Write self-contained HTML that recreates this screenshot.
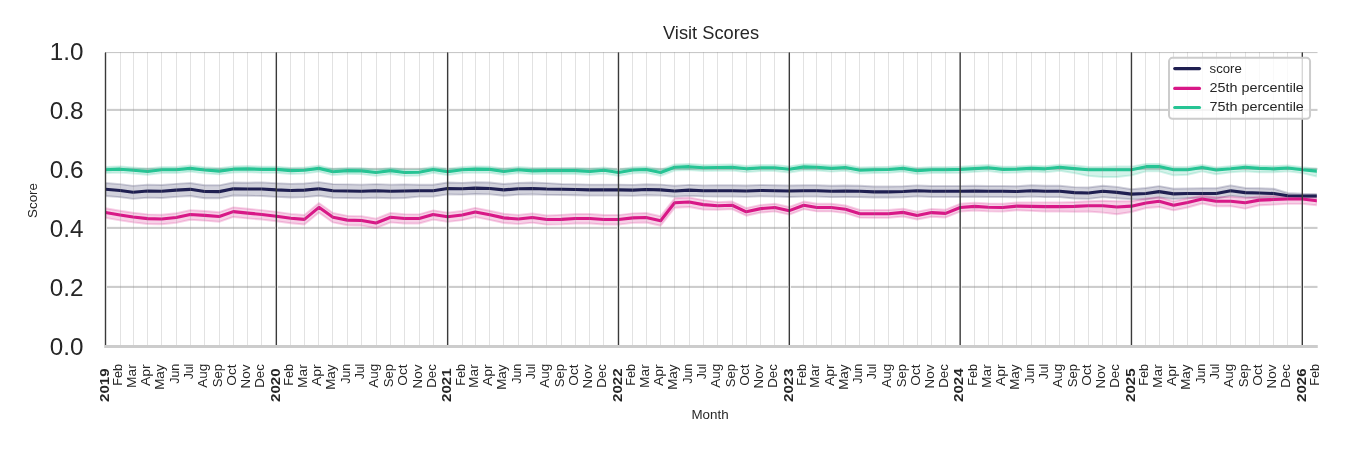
<!DOCTYPE html>
<html><head><meta charset="utf-8"><style>html,body{margin:0;padding:0;background:#fff;}svg{display:block;will-change:transform;}</style></head>
<body><svg width="1350" height="450" viewBox="0 0 1350 450">
<defs><clipPath id="ax"><rect x="105.5" y="51.9" width="1211.3" height="294"/></clipPath></defs>
<rect x="0" y="0" width="1350" height="450" fill="#fff"/>
<rect x="105.5" y="285.86" width="1212" height="2.08" fill="#cccccc"/>
<rect x="105.5" y="226.86" width="1212" height="2.08" fill="#cccccc"/>
<rect x="105.5" y="167.86" width="1212" height="2.08" fill="#cccccc"/>
<rect x="105.5" y="108.86" width="1212" height="2.08" fill="#cccccc"/>
<rect x="105.5" y="52" width="1212" height="1.1" fill="#c8c8c8"/>
<rect x="104.15" y="53.3" width="2.8" height="291.2" fill="#ffffff"/>
<rect x="274.99" y="53.3" width="2.8" height="291.2" fill="#ffffff"/>
<rect x="446.29" y="53.3" width="2.8" height="291.2" fill="#ffffff"/>
<rect x="617.13" y="53.3" width="2.8" height="291.2" fill="#ffffff"/>
<rect x="787.97" y="53.3" width="2.8" height="291.2" fill="#ffffff"/>
<rect x="958.81" y="53.3" width="2.8" height="291.2" fill="#ffffff"/>
<rect x="1130.11" y="53.3" width="2.8" height="291.2" fill="#ffffff"/>
<rect x="1300.95" y="53.3" width="2.8" height="291.2" fill="#ffffff"/>
<polygon clip-path="url(#ax)" points="105.50,182.93 120.01,184.17 133.11,185.87 147.62,184.63 161.67,184.97 176.18,183.83 190.22,183.04 204.73,185.19 219.24,185.31 233.28,182.47 247.79,182.70 261.83,182.40 276.34,183.31 290.85,183.87 304.42,183.53 318.93,182.17 332.97,184.10 347.48,184.33 361.52,184.67 376.03,184.10 390.54,184.67 404.58,184.33 419.09,184.80 433.13,184.80 447.64,182.53 462.15,182.87 475.26,182.19 489.77,182.53 503.81,184.01 518.32,182.87 532.36,182.53 546.87,183.10 561.38,183.93 575.42,184.27 589.93,184.61 603.97,184.61 618.48,184.61 632.99,184.83 646.10,184.27 660.61,184.61 674.65,185.74 689.16,184.83 703.20,185.40 717.71,185.20 732.22,185.20 746.26,185.43 760.77,184.97 774.81,185.20 789.32,185.54 803.83,185.20 816.93,185.20 831.44,185.77 845.48,185.54 859.99,185.77 874.04,186.53 888.55,186.53 903.05,186.19 917.10,185.40 931.61,185.97 945.65,185.97 960.16,185.97 974.67,185.74 988.24,185.97 1002.75,185.97 1016.79,186.19 1031.30,185.20 1045.34,185.77 1059.85,185.77 1074.36,187.13 1088.40,187.47 1102.91,185.77 1116.95,186.90 1131.46,189.30 1145.97,188.03 1159.08,186.11 1173.59,188.77 1187.63,188.43 1202.14,188.23 1216.18,188.23 1230.69,185.40 1245.20,187.93 1259.24,188.27 1273.75,188.73 1287.79,193.00 1302.30,193.63 1316.81,193.93 1316.81,197.83 1302.30,198.13 1287.79,198.10 1273.75,198.33 1259.24,198.37 1245.20,197.43 1230.69,195.80 1216.18,198.63 1202.14,198.13 1187.63,198.13 1173.59,198.97 1159.08,197.51 1145.97,199.43 1131.46,199.30 1116.95,198.30 1102.91,197.17 1088.40,198.87 1074.36,198.53 1059.85,197.17 1045.34,197.17 1031.30,196.60 1016.79,197.19 1002.75,196.97 988.24,196.97 974.67,196.74 960.16,196.97 945.65,196.97 931.61,196.97 917.10,196.40 903.05,197.19 888.55,197.53 874.04,197.53 859.99,197.17 845.48,196.94 831.44,197.17 816.93,196.60 803.83,196.60 789.32,196.94 774.81,196.60 760.77,196.37 746.26,196.83 732.22,196.60 717.71,196.60 703.20,196.40 689.16,195.83 674.65,196.74 660.61,195.61 646.10,195.27 632.99,195.83 618.48,195.61 603.97,195.61 589.93,195.61 575.42,195.27 561.38,194.93 546.87,194.90 532.36,194.33 518.32,194.67 503.81,195.81 489.77,194.33 475.26,193.99 462.15,194.67 447.64,194.33 433.13,196.60 419.09,196.60 404.58,197.93 390.54,198.27 376.03,197.70 361.52,198.27 347.48,197.93 332.97,197.70 318.93,195.77 304.42,197.13 290.85,197.47 276.34,196.91 261.83,196.00 247.79,195.70 233.28,195.47 219.24,198.31 204.73,198.19 190.22,196.04 176.18,196.83 161.67,197.97 147.62,197.63 133.11,198.87 120.01,197.17 105.50,195.93" fill="#1f1f51" fill-opacity="0.2" stroke="#1f1f51" stroke-opacity="0.2" stroke-width="1.9" stroke-linejoin="round"/>
<polygon clip-path="url(#ax)" points="105.50,208.24 120.01,210.73 133.11,212.77 147.62,214.36 161.67,214.70 176.18,213.23 190.22,210.17 204.73,211.07 219.24,212.21 233.28,207.33 247.79,208.81 261.83,210.17 276.34,211.87 290.85,213.91 304.42,215.04 318.93,203.03 332.97,213.00 347.48,215.83 361.52,216.17 376.03,218.67 390.54,213.00 404.58,214.13 419.09,214.33 433.13,210.37 447.64,212.63 462.15,210.93 475.26,207.87 489.77,210.71 503.81,213.77 518.32,214.90 532.36,213.43 546.87,215.47 561.38,214.84 575.42,213.93 589.93,213.93 603.97,215.07 618.48,215.07 632.99,213.37 646.10,213.03 660.61,216.20 674.65,198.29 689.16,197.50 703.20,200.11 717.71,202.10 732.22,201.53 746.26,208.11 760.77,204.93 774.81,203.80 789.32,206.97 803.83,201.53 816.93,203.80 831.44,203.80 845.48,205.50 859.99,210.03 874.04,210.03 888.55,210.03 903.05,208.67 917.10,211.73 931.61,208.90 945.65,209.69 960.16,203.80 974.67,202.67 988.24,203.57 1002.75,203.80 1016.79,202.44 1031.30,202.40 1045.34,202.40 1059.85,202.40 1074.36,202.06 1088.40,201.27 1102.91,200.70 1116.95,201.27 1131.46,201.27 1145.97,198.43 1159.08,197.30 1173.59,201.27 1187.63,198.43 1202.14,195.60 1216.18,197.30 1230.69,196.73 1245.20,197.87 1259.24,196.39 1273.75,195.94 1287.79,195.60 1302.30,195.60 1316.81,197.30 1316.81,205.23 1302.30,203.87 1287.79,203.87 1273.75,204.67 1259.24,205.23 1245.20,208.63 1230.69,206.14 1216.18,206.37 1202.14,203.53 1187.63,207.50 1173.59,210.33 1159.08,206.93 1145.97,208.07 1131.46,212.03 1116.95,214.30 1102.91,212.60 1088.40,211.47 1074.36,211.81 1059.85,211.47 1045.34,211.47 1031.30,210.90 1016.79,210.24 1002.75,211.60 988.24,211.37 974.67,210.47 960.16,211.60 945.65,217.49 931.61,216.70 917.10,219.53 903.05,216.47 888.55,217.83 874.04,217.83 859.99,217.63 845.48,213.10 831.44,211.40 816.93,211.40 803.83,209.13 789.32,214.57 774.81,211.40 760.77,212.53 746.26,215.71 732.22,209.13 717.71,209.70 703.20,209.61 689.16,207.00 674.65,207.79 660.61,225.70 646.10,222.53 632.99,222.87 618.48,224.57 603.97,224.57 589.93,223.43 575.42,223.43 561.38,224.34 546.87,224.67 532.36,222.63 518.32,224.10 503.81,222.97 489.77,219.91 475.26,217.07 462.15,220.13 447.64,221.83 433.13,219.57 419.09,223.53 404.58,223.53 390.54,222.40 376.03,228.07 361.52,225.57 347.48,225.23 332.97,222.40 318.93,212.43 304.42,224.44 290.85,223.31 276.34,221.27 261.83,219.57 247.79,218.41 233.28,216.93 219.24,221.81 204.73,220.67 190.22,219.77 176.18,222.83 161.67,224.30 147.62,223.96 133.11,222.37 120.01,220.33 105.50,217.84" fill="#d81887" fill-opacity="0.2" stroke="#d81887" stroke-opacity="0.2" stroke-width="1.9" stroke-linejoin="round"/>
<polygon clip-path="url(#ax)" points="105.50,166.93 120.01,166.37 133.11,167.50 147.62,168.63 161.67,166.93 176.18,166.93 190.22,165.57 204.73,167.27 219.24,168.29 233.28,166.37 247.79,166.03 261.83,166.59 276.34,166.59 290.85,167.84 304.42,167.50 318.93,165.57 332.97,168.97 347.48,167.84 361.52,168.07 376.03,169.77 390.54,167.84 404.58,169.77 419.09,169.43 433.13,166.71 447.64,168.97 462.15,166.93 475.26,166.37 489.77,166.59 503.81,168.63 518.32,166.93 532.36,168.07 546.87,167.84 561.38,167.84 575.42,167.84 589.93,168.63 603.97,167.50 618.48,169.77 632.99,167.27 646.10,166.71 660.61,169.77 674.65,164.44 689.16,163.87 703.20,165.01 717.71,164.67 732.22,164.44 746.26,166.03 760.77,164.89 774.81,164.89 789.32,166.37 803.83,164.10 816.93,164.44 831.44,165.57 845.48,164.67 859.99,167.50 874.04,166.93 888.55,166.71 903.05,165.57 917.10,167.84 931.61,166.93 945.65,166.93 960.16,166.59 974.67,165.80 988.24,165.01 1002.75,166.59 1016.79,166.37 1031.30,165.77 1045.34,166.11 1059.85,164.63 1074.36,165.43 1088.40,166.90 1102.91,166.90 1116.95,166.56 1131.46,166.56 1145.97,163.84 1159.08,163.84 1173.59,166.90 1187.63,166.90 1202.14,164.97 1216.18,167.47 1230.69,166.11 1245.20,164.63 1259.24,165.77 1273.75,166.11 1287.79,165.43 1302.30,167.24 1316.81,168.60 1316.81,176.47 1302.30,173.07 1287.79,171.37 1273.75,172.27 1259.24,172.27 1245.20,171.37 1230.69,172.27 1216.18,174.20 1202.14,171.37 1187.63,174.77 1173.59,175.33 1159.08,171.37 1145.97,171.37 1131.46,175.33 1116.95,177.03 1102.91,177.03 1088.40,175.90 1074.36,173.07 1059.85,170.80 1045.34,172.27 1031.30,171.59 1016.79,172.47 1002.75,172.69 988.24,171.11 974.67,171.90 960.16,172.69 945.65,173.03 931.61,173.03 917.10,173.94 903.05,171.67 888.55,172.81 874.04,173.03 859.99,173.60 845.48,170.77 831.44,171.67 816.93,170.54 803.83,170.20 789.32,172.47 774.81,170.99 760.77,170.99 746.26,172.13 732.22,170.54 717.71,170.77 703.20,171.11 689.16,169.97 674.65,170.54 660.61,175.87 646.10,172.81 632.99,173.37 618.48,175.87 603.97,173.60 589.93,174.73 575.42,173.94 561.38,173.94 546.87,173.94 532.36,174.17 518.32,173.03 503.81,174.73 489.77,172.69 475.26,172.47 462.15,173.03 447.64,175.07 433.13,172.81 419.09,175.53 404.58,175.87 390.54,173.94 376.03,175.87 361.52,174.17 347.48,173.94 332.97,175.07 318.93,171.67 304.42,173.60 290.85,173.94 276.34,172.69 261.83,172.69 247.79,172.13 233.28,172.47 219.24,174.39 204.73,173.37 190.22,171.67 176.18,173.03 161.67,173.03 147.62,174.73 133.11,173.60 120.01,172.47 105.50,173.03" fill="#26c494" fill-opacity="0.2" stroke="#26c494" stroke-opacity="0.2" stroke-width="1.9" stroke-linejoin="round"/>
<polyline points="105.50,189.23 120.01,190.47 133.11,192.17 147.62,190.93 161.67,191.27 176.18,190.13 190.22,189.34 204.73,191.49 219.24,191.61 233.28,188.77 247.79,189.00 261.83,189.00 276.34,189.91 290.85,190.47 304.42,190.13 318.93,188.77 332.97,190.70 347.48,190.93 361.52,191.27 376.03,190.70 390.54,191.27 404.58,190.93 419.09,190.70 433.13,190.70 447.64,188.43 462.15,188.77 475.26,188.09 489.77,188.43 503.81,189.91 518.32,188.77 532.36,188.43 546.87,189.00 561.38,189.23 575.42,189.57 589.93,189.91 603.97,189.91 618.48,189.91 632.99,190.13 646.10,189.57 660.61,189.91 674.65,191.04 689.16,190.13 703.20,190.70 717.71,190.70 732.22,190.70 746.26,190.93 760.77,190.47 774.81,190.70 789.32,191.04 803.83,190.70 816.93,190.70 831.44,191.27 845.48,191.04 859.99,191.27 874.04,191.83 888.55,191.83 903.05,191.49 917.10,190.70 931.61,191.27 945.65,191.27 960.16,191.27 974.67,191.04 988.24,191.27 1002.75,191.27 1016.79,191.49 1031.30,190.70 1045.34,191.27 1059.85,191.27 1074.36,192.63 1088.40,192.97 1102.91,191.27 1116.95,192.40 1131.46,194.10 1145.97,193.53 1159.08,191.61 1173.59,193.87 1187.63,193.53 1202.14,193.53 1216.18,193.53 1230.69,190.70 1245.20,192.63 1259.24,192.97 1273.75,193.53 1287.79,195.80 1302.30,196.03 1316.81,196.03" fill="none" stroke="#1f1f51" stroke-width="3.1" stroke-linejoin="round" stroke-linecap="round" clip-path="url(#ax)"/>
<polyline points="105.50,212.54 120.01,215.03 133.11,217.07 147.62,218.66 161.67,219.00 176.18,217.53 190.22,214.47 204.73,215.37 219.24,216.51 233.28,211.63 247.79,213.11 261.83,214.47 276.34,216.17 290.85,218.21 304.42,219.34 318.93,207.33 332.97,217.30 347.48,220.13 361.52,220.47 376.03,222.97 390.54,217.30 404.58,218.43 419.09,218.43 433.13,214.47 447.64,216.73 462.15,215.03 475.26,211.97 489.77,214.81 503.81,217.87 518.32,219.00 532.36,217.53 546.87,219.57 561.38,219.34 575.42,218.43 589.93,218.43 603.97,219.57 618.48,219.57 632.99,217.87 646.10,217.53 660.61,220.70 674.65,202.79 689.16,202.00 703.20,204.61 717.71,205.80 732.22,205.23 746.26,211.81 760.77,208.63 774.81,207.50 789.32,210.67 803.83,205.23 816.93,207.50 831.44,207.50 845.48,209.20 859.99,213.73 874.04,213.73 888.55,213.73 903.05,212.37 917.10,215.43 931.61,212.60 945.65,213.39 960.16,207.50 974.67,206.37 988.24,207.27 1002.75,207.50 1016.79,206.14 1031.30,206.37 1045.34,206.59 1059.85,206.59 1074.36,206.37 1088.40,205.80 1102.91,205.80 1116.95,206.93 1131.46,206.14 1145.97,202.97 1159.08,201.27 1173.59,205.23 1187.63,202.40 1202.14,199.00 1216.18,201.27 1230.69,201.27 1245.20,202.74 1259.24,200.13 1273.75,199.57 1287.79,199.00 1302.30,199.00 1316.81,200.70" fill="none" stroke="#d81887" stroke-width="3.1" stroke-linejoin="round" stroke-linecap="round" clip-path="url(#ax)"/>
<polyline points="105.50,169.73 120.01,169.17 133.11,170.30 147.62,171.43 161.67,169.73 176.18,169.73 190.22,168.37 204.73,170.07 219.24,171.09 233.28,169.17 247.79,168.83 261.83,169.39 276.34,169.39 290.85,170.64 304.42,170.30 318.93,168.37 332.97,171.77 347.48,170.64 361.52,170.87 376.03,172.57 390.54,170.64 404.58,172.57 419.09,172.23 433.13,169.51 447.64,171.77 462.15,169.73 475.26,169.17 489.77,169.39 503.81,171.43 518.32,169.73 532.36,170.87 546.87,170.64 561.38,170.64 575.42,170.64 589.93,171.43 603.97,170.30 618.48,172.57 632.99,170.07 646.10,169.51 660.61,172.57 674.65,167.24 689.16,166.67 703.20,167.81 717.71,167.47 732.22,167.24 746.26,168.83 760.77,167.69 774.81,167.69 789.32,169.17 803.83,166.90 816.93,167.24 831.44,168.37 845.48,167.47 859.99,170.30 874.04,169.73 888.55,169.51 903.05,168.37 917.10,170.64 931.61,169.73 945.65,169.73 960.16,169.39 974.67,168.60 988.24,167.81 1002.75,169.39 1016.79,169.17 1031.30,168.37 1045.34,168.83 1059.85,167.24 1074.36,168.60 1088.40,169.73 1102.91,169.73 1116.95,169.73 1131.46,169.73 1145.97,166.67 1159.08,166.56 1173.59,169.73 1187.63,169.73 1202.14,167.47 1216.18,170.07 1230.69,168.83 1245.20,167.24 1259.24,168.37 1273.75,168.83 1287.79,168.03 1302.30,169.73 1316.81,171.09" fill="none" stroke="#26c494" stroke-width="3.1" stroke-linejoin="round" stroke-linecap="round" clip-path="url(#ax)"/>
<rect x="120" y="52" width="1" height="294" fill="#8c8c8c" fill-opacity="0.25"/>
<rect x="133" y="52" width="1" height="294" fill="#8c8c8c" fill-opacity="0.25"/>
<rect x="147" y="52" width="1" height="294" fill="#8c8c8c" fill-opacity="0.25"/>
<rect x="161" y="52" width="1" height="294" fill="#8c8c8c" fill-opacity="0.25"/>
<rect x="176" y="52" width="1" height="294" fill="#8c8c8c" fill-opacity="0.25"/>
<rect x="190" y="52" width="1" height="294" fill="#8c8c8c" fill-opacity="0.25"/>
<rect x="204" y="52" width="1" height="294" fill="#8c8c8c" fill-opacity="0.25"/>
<rect x="219" y="52" width="1" height="294" fill="#8c8c8c" fill-opacity="0.25"/>
<rect x="233" y="52" width="1" height="294" fill="#8c8c8c" fill-opacity="0.25"/>
<rect x="247" y="52" width="1" height="294" fill="#8c8c8c" fill-opacity="0.25"/>
<rect x="261" y="52" width="1" height="294" fill="#8c8c8c" fill-opacity="0.25"/>
<rect x="290" y="52" width="1" height="294" fill="#8c8c8c" fill-opacity="0.25"/>
<rect x="304" y="52" width="1" height="294" fill="#8c8c8c" fill-opacity="0.25"/>
<rect x="318" y="52" width="1" height="294" fill="#8c8c8c" fill-opacity="0.25"/>
<rect x="332" y="52" width="1" height="294" fill="#8c8c8c" fill-opacity="0.25"/>
<rect x="347" y="52" width="1" height="294" fill="#8c8c8c" fill-opacity="0.25"/>
<rect x="361" y="52" width="1" height="294" fill="#8c8c8c" fill-opacity="0.25"/>
<rect x="376" y="52" width="1" height="294" fill="#8c8c8c" fill-opacity="0.25"/>
<rect x="390" y="52" width="1" height="294" fill="#8c8c8c" fill-opacity="0.25"/>
<rect x="404" y="52" width="1" height="294" fill="#8c8c8c" fill-opacity="0.25"/>
<rect x="419" y="52" width="1" height="294" fill="#8c8c8c" fill-opacity="0.25"/>
<rect x="433" y="52" width="1" height="294" fill="#8c8c8c" fill-opacity="0.25"/>
<rect x="462" y="52" width="1" height="294" fill="#8c8c8c" fill-opacity="0.25"/>
<rect x="475" y="52" width="1" height="294" fill="#8c8c8c" fill-opacity="0.25"/>
<rect x="489" y="52" width="1" height="294" fill="#8c8c8c" fill-opacity="0.25"/>
<rect x="503" y="52" width="1" height="294" fill="#8c8c8c" fill-opacity="0.25"/>
<rect x="518" y="52" width="1" height="294" fill="#8c8c8c" fill-opacity="0.25"/>
<rect x="532" y="52" width="1" height="294" fill="#8c8c8c" fill-opacity="0.25"/>
<rect x="546" y="52" width="1" height="294" fill="#8c8c8c" fill-opacity="0.25"/>
<rect x="561" y="52" width="1" height="294" fill="#8c8c8c" fill-opacity="0.25"/>
<rect x="575" y="52" width="1" height="294" fill="#8c8c8c" fill-opacity="0.25"/>
<rect x="589" y="52" width="1" height="294" fill="#8c8c8c" fill-opacity="0.25"/>
<rect x="603" y="52" width="1" height="294" fill="#8c8c8c" fill-opacity="0.25"/>
<rect x="632" y="52" width="1" height="294" fill="#8c8c8c" fill-opacity="0.25"/>
<rect x="646" y="52" width="1" height="294" fill="#8c8c8c" fill-opacity="0.25"/>
<rect x="660" y="52" width="1" height="294" fill="#8c8c8c" fill-opacity="0.25"/>
<rect x="674" y="52" width="1" height="294" fill="#8c8c8c" fill-opacity="0.25"/>
<rect x="689" y="52" width="1" height="294" fill="#8c8c8c" fill-opacity="0.25"/>
<rect x="703" y="52" width="1" height="294" fill="#8c8c8c" fill-opacity="0.25"/>
<rect x="717" y="52" width="1" height="294" fill="#8c8c8c" fill-opacity="0.25"/>
<rect x="732" y="52" width="1" height="294" fill="#8c8c8c" fill-opacity="0.25"/>
<rect x="746" y="52" width="1" height="294" fill="#8c8c8c" fill-opacity="0.25"/>
<rect x="760" y="52" width="1" height="294" fill="#8c8c8c" fill-opacity="0.25"/>
<rect x="774" y="52" width="1" height="294" fill="#8c8c8c" fill-opacity="0.25"/>
<rect x="803" y="52" width="1" height="294" fill="#8c8c8c" fill-opacity="0.25"/>
<rect x="816" y="52" width="1" height="294" fill="#8c8c8c" fill-opacity="0.25"/>
<rect x="831" y="52" width="1" height="294" fill="#8c8c8c" fill-opacity="0.25"/>
<rect x="845" y="52" width="1" height="294" fill="#8c8c8c" fill-opacity="0.25"/>
<rect x="859" y="52" width="1" height="294" fill="#8c8c8c" fill-opacity="0.25"/>
<rect x="874" y="52" width="1" height="294" fill="#8c8c8c" fill-opacity="0.25"/>
<rect x="888" y="52" width="1" height="294" fill="#8c8c8c" fill-opacity="0.25"/>
<rect x="903" y="52" width="1" height="294" fill="#8c8c8c" fill-opacity="0.25"/>
<rect x="917" y="52" width="1" height="294" fill="#8c8c8c" fill-opacity="0.25"/>
<rect x="931" y="52" width="1" height="294" fill="#8c8c8c" fill-opacity="0.25"/>
<rect x="945" y="52" width="1" height="294" fill="#8c8c8c" fill-opacity="0.25"/>
<rect x="974" y="52" width="1" height="294" fill="#8c8c8c" fill-opacity="0.25"/>
<rect x="988" y="52" width="1" height="294" fill="#8c8c8c" fill-opacity="0.25"/>
<rect x="1002" y="52" width="1" height="294" fill="#8c8c8c" fill-opacity="0.25"/>
<rect x="1016" y="52" width="1" height="294" fill="#8c8c8c" fill-opacity="0.25"/>
<rect x="1031" y="52" width="1" height="294" fill="#8c8c8c" fill-opacity="0.25"/>
<rect x="1045" y="52" width="1" height="294" fill="#8c8c8c" fill-opacity="0.25"/>
<rect x="1059" y="52" width="1" height="294" fill="#8c8c8c" fill-opacity="0.25"/>
<rect x="1074" y="52" width="1" height="294" fill="#8c8c8c" fill-opacity="0.25"/>
<rect x="1088" y="52" width="1" height="294" fill="#8c8c8c" fill-opacity="0.25"/>
<rect x="1102" y="52" width="1" height="294" fill="#8c8c8c" fill-opacity="0.25"/>
<rect x="1116" y="52" width="1" height="294" fill="#8c8c8c" fill-opacity="0.25"/>
<rect x="1145" y="52" width="1" height="294" fill="#8c8c8c" fill-opacity="0.25"/>
<rect x="1159" y="52" width="1" height="294" fill="#8c8c8c" fill-opacity="0.25"/>
<rect x="1173" y="52" width="1" height="294" fill="#8c8c8c" fill-opacity="0.25"/>
<rect x="1187" y="52" width="1" height="294" fill="#8c8c8c" fill-opacity="0.25"/>
<rect x="1202" y="52" width="1" height="294" fill="#8c8c8c" fill-opacity="0.25"/>
<rect x="1216" y="52" width="1" height="294" fill="#8c8c8c" fill-opacity="0.25"/>
<rect x="1230" y="52" width="1" height="294" fill="#8c8c8c" fill-opacity="0.25"/>
<rect x="1245" y="52" width="1" height="294" fill="#8c8c8c" fill-opacity="0.25"/>
<rect x="1259" y="52" width="1" height="294" fill="#8c8c8c" fill-opacity="0.25"/>
<rect x="1273" y="52" width="1" height="294" fill="#8c8c8c" fill-opacity="0.25"/>
<rect x="1287" y="52" width="1" height="294" fill="#8c8c8c" fill-opacity="0.25"/>
<line x1="105.50" y1="52.9" x2="105.50" y2="345.0" stroke="#3a3a3a" stroke-width="1.4" stroke-linecap="round"/>
<line x1="276.34" y1="52.9" x2="276.34" y2="345.0" stroke="#3a3a3a" stroke-width="1.4" stroke-linecap="round"/>
<line x1="447.64" y1="52.9" x2="447.64" y2="345.0" stroke="#3a3a3a" stroke-width="1.4" stroke-linecap="round"/>
<line x1="618.48" y1="52.9" x2="618.48" y2="345.0" stroke="#3a3a3a" stroke-width="1.4" stroke-linecap="round"/>
<line x1="789.32" y1="52.9" x2="789.32" y2="345.0" stroke="#3a3a3a" stroke-width="1.4" stroke-linecap="round"/>
<line x1="960.16" y1="52.9" x2="960.16" y2="345.0" stroke="#3a3a3a" stroke-width="1.4" stroke-linecap="round"/>
<line x1="1131.46" y1="52.9" x2="1131.46" y2="345.0" stroke="#3a3a3a" stroke-width="1.4" stroke-linecap="round"/>
<line x1="1302.30" y1="52.9" x2="1302.30" y2="345.0" stroke="#3a3a3a" stroke-width="1.4" stroke-linecap="round"/>
<rect x="104.2" y="345" width="1213.6" height="3" fill="#cccccc"/>
<rect x="1169.0" y="57.85" width="141.05" height="61.0" rx="3.5" ry="3.5" fill="#ffffff" fill-opacity="0.8" stroke="#cccccc" stroke-width="2"/>
<line x1="1174.7" y1="68.60" x2="1199.5" y2="68.60" stroke="#1f1f51" stroke-width="3.1" stroke-linecap="round"/>
<line x1="1174.7" y1="88.40" x2="1199.5" y2="88.40" stroke="#d81887" stroke-width="3.1" stroke-linecap="round"/>
<line x1="1174.7" y1="107.50" x2="1199.5" y2="107.50" stroke="#26c494" stroke-width="3.1" stroke-linecap="round"/>
<text x="1209.6" y="72.90" font-family="Liberation Sans, sans-serif" font-size="13.25" fill="#262626"  textLength="32.24" lengthAdjust="spacingAndGlyphs">score</text>
<text x="1209.6" y="91.95" font-family="Liberation Sans, sans-serif" font-size="13.25" fill="#262626"  textLength="94.26" lengthAdjust="spacingAndGlyphs">25th percentile</text>
<text x="1209.6" y="110.90" font-family="Liberation Sans, sans-serif" font-size="13.25" fill="#262626"  textLength="94.26" lengthAdjust="spacingAndGlyphs">75th percentile</text>
<text x="663.0" y="38.8" font-family="Liberation Sans, sans-serif" font-size="17.67" fill="#262626" textLength="96.08" lengthAdjust="spacingAndGlyphs">Visit Scores</text>
<text x="83.4" y="60.00" text-anchor="end" font-family="Liberation Sans, sans-serif" font-size="23.2" fill="#262626" textLength="33.7" lengthAdjust="spacingAndGlyphs">1.0</text>
<text x="83.4" y="119.00" text-anchor="end" font-family="Liberation Sans, sans-serif" font-size="23.2" fill="#262626" textLength="33.7" lengthAdjust="spacingAndGlyphs">0.8</text>
<text x="83.4" y="178.00" text-anchor="end" font-family="Liberation Sans, sans-serif" font-size="23.2" fill="#262626" textLength="33.7" lengthAdjust="spacingAndGlyphs">0.6</text>
<text x="83.4" y="237.00" text-anchor="end" font-family="Liberation Sans, sans-serif" font-size="23.2" fill="#262626" textLength="33.7" lengthAdjust="spacingAndGlyphs">0.4</text>
<text x="83.4" y="296.00" text-anchor="end" font-family="Liberation Sans, sans-serif" font-size="23.2" fill="#262626" textLength="33.7" lengthAdjust="spacingAndGlyphs">0.2</text>
<text x="83.4" y="355.00" text-anchor="end" font-family="Liberation Sans, sans-serif" font-size="23.2" fill="#262626" textLength="33.7" lengthAdjust="spacingAndGlyphs">0.0</text>
<text transform="translate(37.4,200.5) rotate(-90)" text-anchor="middle" font-family="Liberation Sans, sans-serif" font-size="13.25" fill="#262626"  textLength="35.01" lengthAdjust="spacingAndGlyphs">Score</text>
<text x="710" y="418.9" text-anchor="middle" font-family="Liberation Sans, sans-serif" font-size="13.25" fill="#262626"  textLength="37.14" lengthAdjust="spacingAndGlyphs">Month</text>
<text transform="translate(108.80,368.4) rotate(-90)" text-anchor="end" font-family="Liberation Sans, sans-serif" font-size="13.25" font-weight="bold" fill="#262626" textLength="33.57" lengthAdjust="spacingAndGlyphs">2019</text>
<text transform="translate(122.46,364.01) rotate(-90)" text-anchor="end" font-family="Liberation Sans, sans-serif" font-size="13.25" fill="#262626" textLength="21.75" lengthAdjust="spacingAndGlyphs">Feb</text>
<text transform="translate(135.56,364.25) rotate(-90)" text-anchor="end" font-family="Liberation Sans, sans-serif" font-size="13.25" fill="#262626" textLength="23.76" lengthAdjust="spacingAndGlyphs">Mar</text>
<text transform="translate(150.07,364.27) rotate(-90)" text-anchor="end" font-family="Liberation Sans, sans-serif" font-size="13.25" fill="#262626" textLength="21.83" lengthAdjust="spacingAndGlyphs">Apr</text>
<text transform="translate(164.12,364.43) rotate(-90)" text-anchor="end" font-family="Liberation Sans, sans-serif" font-size="13.25" fill="#262626" textLength="25.40" lengthAdjust="spacingAndGlyphs">May</text>
<text transform="translate(178.63,363.70) rotate(-90)" text-anchor="end" font-family="Liberation Sans, sans-serif" font-size="13.25" fill="#262626" textLength="20.10" lengthAdjust="spacingAndGlyphs">Jun</text>
<text transform="translate(192.67,363.69) rotate(-90)" text-anchor="end" font-family="Liberation Sans, sans-serif" font-size="13.25" fill="#262626" textLength="15.55" lengthAdjust="spacingAndGlyphs">Jul</text>
<text transform="translate(207.18,363.64) rotate(-90)" text-anchor="end" font-family="Liberation Sans, sans-serif" font-size="13.25" fill="#262626" textLength="24.06" lengthAdjust="spacingAndGlyphs">Aug</text>
<text transform="translate(221.69,363.99) rotate(-90)" text-anchor="end" font-family="Liberation Sans, sans-serif" font-size="13.25" fill="#262626" textLength="23.24" lengthAdjust="spacingAndGlyphs">Sep</text>
<text transform="translate(235.73,364.40) rotate(-90)" text-anchor="end" font-family="Liberation Sans, sans-serif" font-size="13.25" fill="#262626" textLength="21.36" lengthAdjust="spacingAndGlyphs">Oct</text>
<text transform="translate(250.24,364.47) rotate(-90)" text-anchor="end" font-family="Liberation Sans, sans-serif" font-size="13.25" fill="#262626" textLength="23.91" lengthAdjust="spacingAndGlyphs">Nov</text>
<text transform="translate(264.28,364.15) rotate(-90)" text-anchor="end" font-family="Liberation Sans, sans-serif" font-size="13.25" fill="#262626" textLength="23.61" lengthAdjust="spacingAndGlyphs">Dec</text>
<text transform="translate(279.64,368.4) rotate(-90)" text-anchor="end" font-family="Liberation Sans, sans-serif" font-size="13.25" font-weight="bold" fill="#262626" textLength="33.57" lengthAdjust="spacingAndGlyphs">2020</text>
<text transform="translate(293.30,364.01) rotate(-90)" text-anchor="end" font-family="Liberation Sans, sans-serif" font-size="13.25" fill="#262626" textLength="21.75" lengthAdjust="spacingAndGlyphs">Feb</text>
<text transform="translate(306.87,364.25) rotate(-90)" text-anchor="end" font-family="Liberation Sans, sans-serif" font-size="13.25" fill="#262626" textLength="23.76" lengthAdjust="spacingAndGlyphs">Mar</text>
<text transform="translate(321.38,364.27) rotate(-90)" text-anchor="end" font-family="Liberation Sans, sans-serif" font-size="13.25" fill="#262626" textLength="21.83" lengthAdjust="spacingAndGlyphs">Apr</text>
<text transform="translate(335.42,364.43) rotate(-90)" text-anchor="end" font-family="Liberation Sans, sans-serif" font-size="13.25" fill="#262626" textLength="25.40" lengthAdjust="spacingAndGlyphs">May</text>
<text transform="translate(349.93,363.70) rotate(-90)" text-anchor="end" font-family="Liberation Sans, sans-serif" font-size="13.25" fill="#262626" textLength="20.10" lengthAdjust="spacingAndGlyphs">Jun</text>
<text transform="translate(363.97,363.69) rotate(-90)" text-anchor="end" font-family="Liberation Sans, sans-serif" font-size="13.25" fill="#262626" textLength="15.55" lengthAdjust="spacingAndGlyphs">Jul</text>
<text transform="translate(378.48,363.64) rotate(-90)" text-anchor="end" font-family="Liberation Sans, sans-serif" font-size="13.25" fill="#262626" textLength="24.06" lengthAdjust="spacingAndGlyphs">Aug</text>
<text transform="translate(392.99,363.99) rotate(-90)" text-anchor="end" font-family="Liberation Sans, sans-serif" font-size="13.25" fill="#262626" textLength="23.24" lengthAdjust="spacingAndGlyphs">Sep</text>
<text transform="translate(407.03,364.40) rotate(-90)" text-anchor="end" font-family="Liberation Sans, sans-serif" font-size="13.25" fill="#262626" textLength="21.36" lengthAdjust="spacingAndGlyphs">Oct</text>
<text transform="translate(421.54,364.47) rotate(-90)" text-anchor="end" font-family="Liberation Sans, sans-serif" font-size="13.25" fill="#262626" textLength="23.91" lengthAdjust="spacingAndGlyphs">Nov</text>
<text transform="translate(435.58,364.15) rotate(-90)" text-anchor="end" font-family="Liberation Sans, sans-serif" font-size="13.25" fill="#262626" textLength="23.61" lengthAdjust="spacingAndGlyphs">Dec</text>
<text transform="translate(450.94,368.4) rotate(-90)" text-anchor="end" font-family="Liberation Sans, sans-serif" font-size="13.25" font-weight="bold" fill="#262626" textLength="33.57" lengthAdjust="spacingAndGlyphs">2021</text>
<text transform="translate(464.60,364.01) rotate(-90)" text-anchor="end" font-family="Liberation Sans, sans-serif" font-size="13.25" fill="#262626" textLength="21.75" lengthAdjust="spacingAndGlyphs">Feb</text>
<text transform="translate(477.71,364.25) rotate(-90)" text-anchor="end" font-family="Liberation Sans, sans-serif" font-size="13.25" fill="#262626" textLength="23.76" lengthAdjust="spacingAndGlyphs">Mar</text>
<text transform="translate(492.22,364.27) rotate(-90)" text-anchor="end" font-family="Liberation Sans, sans-serif" font-size="13.25" fill="#262626" textLength="21.83" lengthAdjust="spacingAndGlyphs">Apr</text>
<text transform="translate(506.26,364.43) rotate(-90)" text-anchor="end" font-family="Liberation Sans, sans-serif" font-size="13.25" fill="#262626" textLength="25.40" lengthAdjust="spacingAndGlyphs">May</text>
<text transform="translate(520.77,363.70) rotate(-90)" text-anchor="end" font-family="Liberation Sans, sans-serif" font-size="13.25" fill="#262626" textLength="20.10" lengthAdjust="spacingAndGlyphs">Jun</text>
<text transform="translate(534.81,363.69) rotate(-90)" text-anchor="end" font-family="Liberation Sans, sans-serif" font-size="13.25" fill="#262626" textLength="15.55" lengthAdjust="spacingAndGlyphs">Jul</text>
<text transform="translate(549.32,363.64) rotate(-90)" text-anchor="end" font-family="Liberation Sans, sans-serif" font-size="13.25" fill="#262626" textLength="24.06" lengthAdjust="spacingAndGlyphs">Aug</text>
<text transform="translate(563.83,363.99) rotate(-90)" text-anchor="end" font-family="Liberation Sans, sans-serif" font-size="13.25" fill="#262626" textLength="23.24" lengthAdjust="spacingAndGlyphs">Sep</text>
<text transform="translate(577.87,364.40) rotate(-90)" text-anchor="end" font-family="Liberation Sans, sans-serif" font-size="13.25" fill="#262626" textLength="21.36" lengthAdjust="spacingAndGlyphs">Oct</text>
<text transform="translate(592.38,364.47) rotate(-90)" text-anchor="end" font-family="Liberation Sans, sans-serif" font-size="13.25" fill="#262626" textLength="23.91" lengthAdjust="spacingAndGlyphs">Nov</text>
<text transform="translate(606.42,364.15) rotate(-90)" text-anchor="end" font-family="Liberation Sans, sans-serif" font-size="13.25" fill="#262626" textLength="23.61" lengthAdjust="spacingAndGlyphs">Dec</text>
<text transform="translate(621.78,368.4) rotate(-90)" text-anchor="end" font-family="Liberation Sans, sans-serif" font-size="13.25" font-weight="bold" fill="#262626" textLength="33.57" lengthAdjust="spacingAndGlyphs">2022</text>
<text transform="translate(635.44,364.01) rotate(-90)" text-anchor="end" font-family="Liberation Sans, sans-serif" font-size="13.25" fill="#262626" textLength="21.75" lengthAdjust="spacingAndGlyphs">Feb</text>
<text transform="translate(648.55,364.25) rotate(-90)" text-anchor="end" font-family="Liberation Sans, sans-serif" font-size="13.25" fill="#262626" textLength="23.76" lengthAdjust="spacingAndGlyphs">Mar</text>
<text transform="translate(663.06,364.27) rotate(-90)" text-anchor="end" font-family="Liberation Sans, sans-serif" font-size="13.25" fill="#262626" textLength="21.83" lengthAdjust="spacingAndGlyphs">Apr</text>
<text transform="translate(677.10,364.43) rotate(-90)" text-anchor="end" font-family="Liberation Sans, sans-serif" font-size="13.25" fill="#262626" textLength="25.40" lengthAdjust="spacingAndGlyphs">May</text>
<text transform="translate(691.61,363.70) rotate(-90)" text-anchor="end" font-family="Liberation Sans, sans-serif" font-size="13.25" fill="#262626" textLength="20.10" lengthAdjust="spacingAndGlyphs">Jun</text>
<text transform="translate(705.65,363.69) rotate(-90)" text-anchor="end" font-family="Liberation Sans, sans-serif" font-size="13.25" fill="#262626" textLength="15.55" lengthAdjust="spacingAndGlyphs">Jul</text>
<text transform="translate(720.16,363.64) rotate(-90)" text-anchor="end" font-family="Liberation Sans, sans-serif" font-size="13.25" fill="#262626" textLength="24.06" lengthAdjust="spacingAndGlyphs">Aug</text>
<text transform="translate(734.67,363.99) rotate(-90)" text-anchor="end" font-family="Liberation Sans, sans-serif" font-size="13.25" fill="#262626" textLength="23.24" lengthAdjust="spacingAndGlyphs">Sep</text>
<text transform="translate(748.71,364.40) rotate(-90)" text-anchor="end" font-family="Liberation Sans, sans-serif" font-size="13.25" fill="#262626" textLength="21.36" lengthAdjust="spacingAndGlyphs">Oct</text>
<text transform="translate(763.22,364.47) rotate(-90)" text-anchor="end" font-family="Liberation Sans, sans-serif" font-size="13.25" fill="#262626" textLength="23.91" lengthAdjust="spacingAndGlyphs">Nov</text>
<text transform="translate(777.26,364.15) rotate(-90)" text-anchor="end" font-family="Liberation Sans, sans-serif" font-size="13.25" fill="#262626" textLength="23.61" lengthAdjust="spacingAndGlyphs">Dec</text>
<text transform="translate(792.62,368.4) rotate(-90)" text-anchor="end" font-family="Liberation Sans, sans-serif" font-size="13.25" font-weight="bold" fill="#262626" textLength="33.57" lengthAdjust="spacingAndGlyphs">2023</text>
<text transform="translate(806.28,364.01) rotate(-90)" text-anchor="end" font-family="Liberation Sans, sans-serif" font-size="13.25" fill="#262626" textLength="21.75" lengthAdjust="spacingAndGlyphs">Feb</text>
<text transform="translate(819.38,364.25) rotate(-90)" text-anchor="end" font-family="Liberation Sans, sans-serif" font-size="13.25" fill="#262626" textLength="23.76" lengthAdjust="spacingAndGlyphs">Mar</text>
<text transform="translate(833.89,364.27) rotate(-90)" text-anchor="end" font-family="Liberation Sans, sans-serif" font-size="13.25" fill="#262626" textLength="21.83" lengthAdjust="spacingAndGlyphs">Apr</text>
<text transform="translate(847.93,364.43) rotate(-90)" text-anchor="end" font-family="Liberation Sans, sans-serif" font-size="13.25" fill="#262626" textLength="25.40" lengthAdjust="spacingAndGlyphs">May</text>
<text transform="translate(862.44,363.70) rotate(-90)" text-anchor="end" font-family="Liberation Sans, sans-serif" font-size="13.25" fill="#262626" textLength="20.10" lengthAdjust="spacingAndGlyphs">Jun</text>
<text transform="translate(876.49,363.69) rotate(-90)" text-anchor="end" font-family="Liberation Sans, sans-serif" font-size="13.25" fill="#262626" textLength="15.55" lengthAdjust="spacingAndGlyphs">Jul</text>
<text transform="translate(891.00,363.64) rotate(-90)" text-anchor="end" font-family="Liberation Sans, sans-serif" font-size="13.25" fill="#262626" textLength="24.06" lengthAdjust="spacingAndGlyphs">Aug</text>
<text transform="translate(905.50,363.99) rotate(-90)" text-anchor="end" font-family="Liberation Sans, sans-serif" font-size="13.25" fill="#262626" textLength="23.24" lengthAdjust="spacingAndGlyphs">Sep</text>
<text transform="translate(919.55,364.40) rotate(-90)" text-anchor="end" font-family="Liberation Sans, sans-serif" font-size="13.25" fill="#262626" textLength="21.36" lengthAdjust="spacingAndGlyphs">Oct</text>
<text transform="translate(934.06,364.47) rotate(-90)" text-anchor="end" font-family="Liberation Sans, sans-serif" font-size="13.25" fill="#262626" textLength="23.91" lengthAdjust="spacingAndGlyphs">Nov</text>
<text transform="translate(948.10,364.15) rotate(-90)" text-anchor="end" font-family="Liberation Sans, sans-serif" font-size="13.25" fill="#262626" textLength="23.61" lengthAdjust="spacingAndGlyphs">Dec</text>
<text transform="translate(963.46,368.4) rotate(-90)" text-anchor="end" font-family="Liberation Sans, sans-serif" font-size="13.25" font-weight="bold" fill="#262626" textLength="33.57" lengthAdjust="spacingAndGlyphs">2024</text>
<text transform="translate(977.12,364.01) rotate(-90)" text-anchor="end" font-family="Liberation Sans, sans-serif" font-size="13.25" fill="#262626" textLength="21.75" lengthAdjust="spacingAndGlyphs">Feb</text>
<text transform="translate(990.69,364.25) rotate(-90)" text-anchor="end" font-family="Liberation Sans, sans-serif" font-size="13.25" fill="#262626" textLength="23.76" lengthAdjust="spacingAndGlyphs">Mar</text>
<text transform="translate(1005.20,364.27) rotate(-90)" text-anchor="end" font-family="Liberation Sans, sans-serif" font-size="13.25" fill="#262626" textLength="21.83" lengthAdjust="spacingAndGlyphs">Apr</text>
<text transform="translate(1019.24,364.43) rotate(-90)" text-anchor="end" font-family="Liberation Sans, sans-serif" font-size="13.25" fill="#262626" textLength="25.40" lengthAdjust="spacingAndGlyphs">May</text>
<text transform="translate(1033.75,363.70) rotate(-90)" text-anchor="end" font-family="Liberation Sans, sans-serif" font-size="13.25" fill="#262626" textLength="20.10" lengthAdjust="spacingAndGlyphs">Jun</text>
<text transform="translate(1047.79,363.69) rotate(-90)" text-anchor="end" font-family="Liberation Sans, sans-serif" font-size="13.25" fill="#262626" textLength="15.55" lengthAdjust="spacingAndGlyphs">Jul</text>
<text transform="translate(1062.30,363.64) rotate(-90)" text-anchor="end" font-family="Liberation Sans, sans-serif" font-size="13.25" fill="#262626" textLength="24.06" lengthAdjust="spacingAndGlyphs">Aug</text>
<text transform="translate(1076.81,363.99) rotate(-90)" text-anchor="end" font-family="Liberation Sans, sans-serif" font-size="13.25" fill="#262626" textLength="23.24" lengthAdjust="spacingAndGlyphs">Sep</text>
<text transform="translate(1090.85,364.40) rotate(-90)" text-anchor="end" font-family="Liberation Sans, sans-serif" font-size="13.25" fill="#262626" textLength="21.36" lengthAdjust="spacingAndGlyphs">Oct</text>
<text transform="translate(1105.36,364.47) rotate(-90)" text-anchor="end" font-family="Liberation Sans, sans-serif" font-size="13.25" fill="#262626" textLength="23.91" lengthAdjust="spacingAndGlyphs">Nov</text>
<text transform="translate(1119.40,364.15) rotate(-90)" text-anchor="end" font-family="Liberation Sans, sans-serif" font-size="13.25" fill="#262626" textLength="23.61" lengthAdjust="spacingAndGlyphs">Dec</text>
<text transform="translate(1134.76,368.4) rotate(-90)" text-anchor="end" font-family="Liberation Sans, sans-serif" font-size="13.25" font-weight="bold" fill="#262626" textLength="33.57" lengthAdjust="spacingAndGlyphs">2025</text>
<text transform="translate(1148.42,364.01) rotate(-90)" text-anchor="end" font-family="Liberation Sans, sans-serif" font-size="13.25" fill="#262626" textLength="21.75" lengthAdjust="spacingAndGlyphs">Feb</text>
<text transform="translate(1161.53,364.25) rotate(-90)" text-anchor="end" font-family="Liberation Sans, sans-serif" font-size="13.25" fill="#262626" textLength="23.76" lengthAdjust="spacingAndGlyphs">Mar</text>
<text transform="translate(1176.04,364.27) rotate(-90)" text-anchor="end" font-family="Liberation Sans, sans-serif" font-size="13.25" fill="#262626" textLength="21.83" lengthAdjust="spacingAndGlyphs">Apr</text>
<text transform="translate(1190.08,364.43) rotate(-90)" text-anchor="end" font-family="Liberation Sans, sans-serif" font-size="13.25" fill="#262626" textLength="25.40" lengthAdjust="spacingAndGlyphs">May</text>
<text transform="translate(1204.59,363.70) rotate(-90)" text-anchor="end" font-family="Liberation Sans, sans-serif" font-size="13.25" fill="#262626" textLength="20.10" lengthAdjust="spacingAndGlyphs">Jun</text>
<text transform="translate(1218.63,363.69) rotate(-90)" text-anchor="end" font-family="Liberation Sans, sans-serif" font-size="13.25" fill="#262626" textLength="15.55" lengthAdjust="spacingAndGlyphs">Jul</text>
<text transform="translate(1233.14,363.64) rotate(-90)" text-anchor="end" font-family="Liberation Sans, sans-serif" font-size="13.25" fill="#262626" textLength="24.06" lengthAdjust="spacingAndGlyphs">Aug</text>
<text transform="translate(1247.65,363.99) rotate(-90)" text-anchor="end" font-family="Liberation Sans, sans-serif" font-size="13.25" fill="#262626" textLength="23.24" lengthAdjust="spacingAndGlyphs">Sep</text>
<text transform="translate(1261.69,364.40) rotate(-90)" text-anchor="end" font-family="Liberation Sans, sans-serif" font-size="13.25" fill="#262626" textLength="21.36" lengthAdjust="spacingAndGlyphs">Oct</text>
<text transform="translate(1276.20,364.47) rotate(-90)" text-anchor="end" font-family="Liberation Sans, sans-serif" font-size="13.25" fill="#262626" textLength="23.91" lengthAdjust="spacingAndGlyphs">Nov</text>
<text transform="translate(1290.24,364.15) rotate(-90)" text-anchor="end" font-family="Liberation Sans, sans-serif" font-size="13.25" fill="#262626" textLength="23.61" lengthAdjust="spacingAndGlyphs">Dec</text>
<text transform="translate(1305.60,368.4) rotate(-90)" text-anchor="end" font-family="Liberation Sans, sans-serif" font-size="13.25" font-weight="bold" fill="#262626" textLength="33.57" lengthAdjust="spacingAndGlyphs">2026</text>
<text transform="translate(1319.26,364.01) rotate(-90)" text-anchor="end" font-family="Liberation Sans, sans-serif" font-size="13.25" fill="#262626" textLength="21.75" lengthAdjust="spacingAndGlyphs">Feb</text>
</svg></body></html>
